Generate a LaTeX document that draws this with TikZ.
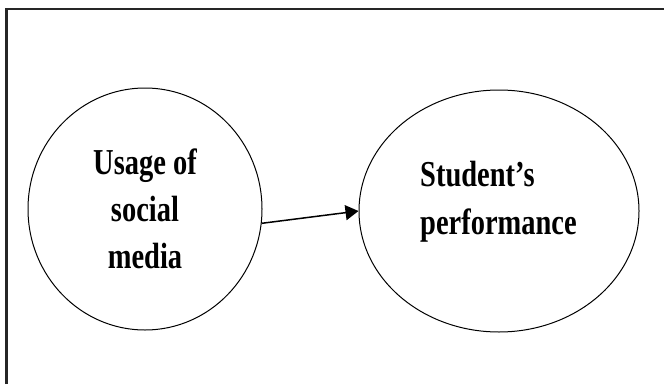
\documentclass[tikz,border=0pt]{standalone}
\usepackage{fontspec}
\newfontfamily\figfont[FakeStretch=0.78]{Liberation Serif}
\usepackage{tikz}
\usetikzlibrary{arrows.meta,positioning,shapes.geometric,calc}

\begin{document}
\begin{tikzpicture}[x=1pt, y=1pt, >={Triangle[length=13pt,width=15pt]}]
    \useasboundingbox (0,0) rectangle (664,384);
    \draw[line width=2.2pt, black!85] (6.5,0) -- (6.5,375) -- (664,375);
    \node[draw, ellipse, line width=1pt, minimum width=234pt, minimum height=242pt] (use) at (145,175) {};
    \node[draw, ellipse, line width=1pt, minimum width=280pt, minimum height=242pt, right=96pt of use, yshift=-2pt] (perf) {};
    \node[align=center, inner sep=0pt, font=\figfont\bfseries\fontsize{36.5}{47}\selectfont] (usetxt) at (145,175) {Usage of\\social\\media};
    \node[align=left, anchor=west, inner sep=0pt, font=\figfont\bfseries\fontsize{36.5}{48}\selectfont] (perftxt) at (420,182) {Student’s\\performance};
    \draw[->, line width=1.5pt] (use.-7) -- (perf.west);
  \end{tikzpicture}
\end{document}
